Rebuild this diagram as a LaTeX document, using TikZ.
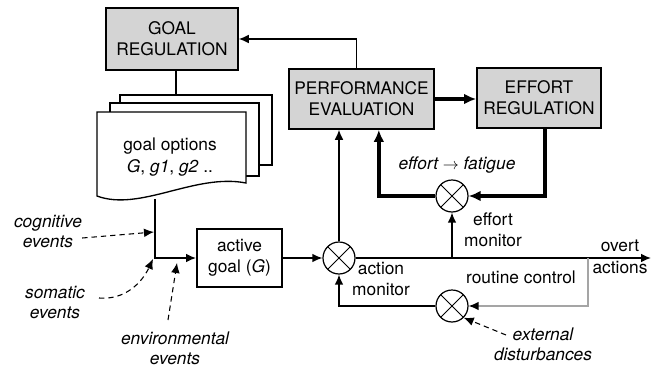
\documentclass[tikz,border=0pt]{standalone}
\usepackage{fontspec}
\setmainfont{TeX Gyre Heros}
\usetikzlibrary{positioning}
\usetikzlibrary{arrows.meta,shapes}
\usetikzlibrary{calc}
\definecolor{boxgray}{RGB}{212,212,212}
\definecolor{routinegray}{RGB}{165,165,165}
\tikzstyle{block}=[rectangle,draw,line width=1.2pt,align=center,inner sep=1pt]
\tikzstyle{graybox}=[block,fill=boxgray]
\tikzstyle{summer}=[circle,draw,line width=0.9pt,minimum size=24pt,inner sep=0pt,fill=white,
  path picture={\draw[line width=0.7pt] (path picture bounding box.south west) -- (path picture bounding box.north east)
                 (path picture bounding box.north west) -- (path picture bounding box.south east);}]
\tikzstyle{sheet}=[draw,fill=white,line width=1pt]
\tikzstyle{wire}=[draw,line width=1pt]
\tikzstyle{edge}=[draw,line width=1pt,-{Latex[length=7.5pt,width=6.5pt]}]
\tikzstyle{thickedge}=[draw,line width=3pt,-{Latex[length=9pt,width=8pt]}]
\tikzstyle{routine}=[draw,routinegray,line width=1pt,-{Latex[length=7.5pt,width=6.5pt,black]}]
\tikzstyle{dashline}=[draw,line width=0.8pt,dash pattern=on 4pt off 3pt,-{Latex[length=7.5pt,width=6.5pt]}]
\tikzstyle{note}=[align=center,inner sep=0pt]
\tikzstyle{event}=[note,font=\fontsize{13}{15}\selectfont\itshape]

\begin{document}
\begin{tikzpicture}[x=0.75pt,y=-0.75pt,font=\fontsize{13}{16}\selectfont]
    \useasboundingbox (0,0) rectangle (651,368);

    % First we draw the regulation boxes
    \node[graybox,minimum width=99pt,minimum height=46.5pt] (goalreg) at (172,39) {GOAL\\REGULATION};
    \node[graybox,minimum width=109pt,minimum height=45pt] (perfeval) at (361.5,99) {PERFORMANCE\\EVALUATION};
    \node[graybox,minimum width=93pt,minimum height=45pt] (effreg) at (539,98) {EFFORT\\REGULATION};
    \node[block,minimum width=64pt,minimum height=43.5pt] (active) at (239.5,258) {active\\goal (\textit{G})};

    % Then the monitors
    \foreach \pos/\name in {{(339,258)/actmon}, {(452,196)/effmon}, {(452,306)/distmon}}
            \node[summer] (\name) at \pos {};

    % Stack of goal options
    \draw[sheet] (120,95) rectangle (272,165);
    \draw[sheet] (110,103) rectangle (259,176);
    \draw[sheet] (97,112) -- (246,112) -- (246,183) .. controls (195,173) and (140,212) .. (97,196) -- cycle;
    \node[note] (options) at (170,157) {goal options\\\textit{G}, \textit{g1}, \textit{g2} ..};
    \coordinate (stacktop) at (176,95);
    \coordinate (stackfoot) at (155,199);

    % Labels
    \node[event] (cognitive) at (48,232) {cognitive\\events};
    \node[event] (somatic) at (55,302) {somatic\\events};
    \node[event] (environ) at (175,348) {environmental\\events};
    \node[event] (extdist) at (543,344) {external\\disturbances};
    \node[event] (fatigue) at (457,165) {effort $\rightarrow$ fatigue};
    \node[note] (actlabel) at (381,279) {action\\monitor};
    \node[note] (efflabel) at (493,230) {effort\\monitor};
    \node[note] (routlabel) at (521,277) {routine control};
    \node[note] (overt) at (620,257) {overt\\actions};

    \coordinate (split) at (588,258);
    \coordinate (outend) at (651,258);
    \coordinate (cogto) at (154,232);
    \coordinate (somfrom) at (99,298);
    \coordinate (somto) at (153,259);
    \coordinate (envfrom) at (168,320);
    \coordinate (envto) at (177,263);
    \coordinate (extfrom) at (506,335);

    % Connect boxes and monitors
    \draw[wire] ([xshift=3pt]goalreg.south) -- ([xshift=3pt]goalreg.south |- stacktop);
    \draw[edge] ([xshift=-4pt]perfeval.north) |- (goalreg.east);
    \draw[edge] (stackfoot) |- (active.west);
    \draw[edge] (active.east) -- (actmon.west);
    \draw[edge] (actmon.north) -- (actmon.north |- perfeval.south);
    \draw[edge] (actmon.east) -- (outend);
    \draw[edge] (effmon.south |- actmon.east) -- (effmon.south);
    \draw[thickedge] (perfeval.east) -- (perfeval.east -| effreg.west);
    \draw[thickedge] ([xshift=4.5pt]effreg.south) |- (effmon.east);
    \draw[thickedge] (effmon.west) -| ([xshift=13pt]perfeval.south);
    \draw[routine] (split) |- (distmon.east);
    \draw[edge] (distmon.west) -| (actmon.south);

    % Outside events
    \draw[dashline] (cognitive.east |- 0,238) -- (cogto);
    \draw[dashline] (somfrom) to[out=-5,in=-115] (somto);
    \draw[dashline] (envfrom) -- (envto);
    \draw[dashline] (extfrom) -- (distmon.-45);

\end{tikzpicture}
\end{document}
